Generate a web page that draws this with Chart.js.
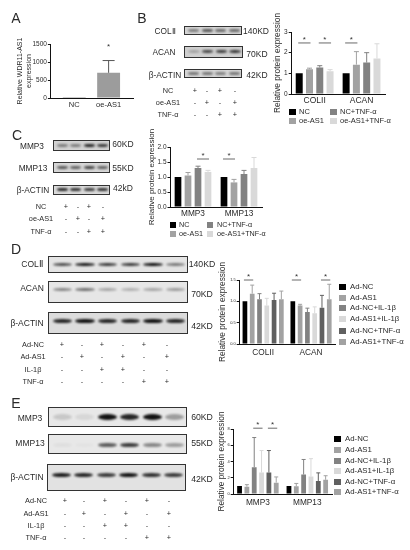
<!DOCTYPE html>
<html>
<head>
<meta charset="utf-8">
<script src="https://cdn.jsdelivr.net/npm/chart.js@4/dist/chart.umd.min.js"></script>
<style>
  html, body { margin: 0; padding: 0; background: #fff; }
  body { position: relative; width: 410px; height: 550px; overflow: hidden; font-family: "Liberation Sans", Arial, sans-serif; color: #2a2a2a; filter: blur(0.3px); }
  canvas { position: absolute; }
  .t { position: absolute; white-space: nowrap; transform: translate(-50%, -50%); line-height: 1; will-change: transform; }
  .l { position: absolute; white-space: nowrap; transform: translateY(-50%); line-height: 1; will-change: transform; }
  .blot { position: absolute; box-sizing: border-box; border: 1px solid #333; overflow: hidden; }
  .band { position: absolute; border-radius: 50%; background: #111; filter: blur(0.9px); }
  .sw { position: absolute; transform: translateY(-50%); }
</style>
</head>
<body>
<script>
// bar colours
const BLACK = '#000000', MID = '#a2a2a2', DARK = '#828282', PALE = '#d9d9d9', DARKER = '#606060'

// panel A
const aLabels = ['NC', 'oe-AS1']
const aValues = [1, 700]
const aUpper = [1, 1040]

// panel B
const bGroups = ['COLII', 'ACAN']
const bSeries = ['NC', 'oe-AS1', 'NC+TNF-α', 'oe-AS1+TNF-α']
const bNC = [1, 1]
const bAS1 = [1.2, 1.42]
const bTNF = [1.28, 1.52]
const bAS1TNF = [1.1, 1.72]
const bNCUp = [1, 1]
const bAS1Up = [1.25, 2.05]
const bTNFUp = [1.37, 2.0]
const bAS1TNFUp = [1.18, 2.43]

// panel C
const cGroups = ['MMP3', 'MMP13']
const cNC = [1, 1]
const cAS1 = [1.05, 0.82]
const cTNF = [1.3, 1.1]
const cAS1TNF = [1.17, 1.3]
const cNCUp = [1, 1]
const cAS1Up = [1.15, 0.92]
const cTNFUp = [1.36, 1.22]
const cAS1TNFUp = [1.22, 1.65]

// panel D
const dGroups = ['COLII', 'ACAN']
const adSeries = ['Ad-NC', 'Ad-AS1', 'Ad-NC+IL-1β', 'Ad-AS1+IL-1β', 'Ad-NC+TNF-α', 'Ad-AS1+TNF-α']
const dNC = [1, 1]
const dAS1 = [1.18, 0.9]
const dIL = [1.05, 0.75]
const dAS1IL = [0.9, 0.72]
const dTNF = [1.03, 0.85]
const dAS1TNF = [1.05, 1.05]
const dNCUp = [1, 1]
const dAS1Up = [1.38, 0.93]
const dILUp = [1.18, 0.84]
const dAS1ILUp = [1.07, 0.87]
const dTNFUp = [1.19, 1.14]
const dAS1TNFUp = [1.24, 1.4]

// panel E
const eGroups = ['MMP3', 'MMP13']
const eNC = [1, 1]
const eAS1 = [0.9, 0.95]
const eIL = [3.3, 2.4]
const eAS1IL = [2.65, 2.15]
const eTNF = [2.65, 1.6]
const eAS1TNF = [1.4, 1.75]
const eNCUp = [1, 1]
const eAS1Up = [1.15, 1.3]
const eILUp = [6.95, 4.25]
const eAS1ILUp = [5.35, 4.35]
const eTNFUp = [5.35, 2.6]
const eAS1TNFUp = [2.1, 2.25]

// significance marks: group, first bar, last bar, height in axis units
const aSig = [[1, 0, 0, 1330]]
const bSig = [[0, 0, 1, 2.47], [0, 2, 3, 2.47], [1, 0, 1, 2.47]]
const cSig = [[0, 2, 3, 1.6], [1, 0, 1, 1.6]]
const dSig = [[0, 0, 1, 1.5], [1, 0, 1, 1.5], [1, 4, 5, 1.5]]
const eSig = [[0, 2, 3, 8.1], [0, 4, 5, 8.1]]

// blot band strength per lane
const bColII = [0.45, 0.65, 0.55, 0.55]
const bAcan = [0.25, 0.75, 0.8, 0.85]
const bActin = [0.5, 0.5, 0.45, 0.5]
const cMmp3 = [0.45, 0.45, 0.9, 0.8]
const cMmp13 = [0.65, 0.6, 0.75, 0.6]
const cActin = [0.9, 0.85, 0.8, 0.85]
const dColII = [0.7, 0.95, 0.8, 0.8, 1, 0.5]
const dAcan = [0.45, 0.55, 0.3, 0.25, 0.3, 0.35]
const dActin = [0.9, 1, 0.9, 0.9, 1, 0.9]
const eMmp3 = [0.15, 0.08, 1, 0.9, 1, 0.35]
const eMmp13 = [0.04, 0.02, 0.65, 0.8, 0.45, 0.35]
const eActin = [0.95, 0.9, 0.8, 1, 0.85, 0.8]

const FONT = '"Liberation Sans", Arial, sans-serif'

function addText(cls, x, y, text, size) {
  const el = document.createElement('div')
  el.className = cls
  el.style.left = x + 'px'
  el.style.top = y + 'px'
  el.style.fontSize = size + 'px'
  el.textContent = text
  document.body.append(el)
}

// error bars and significance marks use the bars placed by the library
const errorBars = {
  id: 'errorBars',
  afterDatasetsDraw(chart, args, opts) {
    const ctx = chart.ctx
    const yScale = chart.scales.y
    ctx.save()
    chart.data.datasets.forEach((ds, di) => {
      const meta = chart.getDatasetMeta(di)
      ds.upper.forEach((up, i) => {
        if (up <= ds.data[i].y) return
        const bar = meta.data[i]
        const y0 = yScale.getPixelForValue(ds.data[i].y)
        const y1 = yScale.getPixelForValue(up)
        ctx.strokeStyle = opts.errColor || ds.backgroundColor
        ctx.lineWidth = 1
        ctx.beginPath()
        ctx.moveTo(bar.x, y0)
        ctx.lineTo(bar.x, y1)
        ctx.moveTo(bar.x - opts.cap, y1)
        ctx.lineTo(bar.x + opts.cap, y1)
        ctx.stroke()
      })
    })
    ctx.fillStyle = '#333'
    ctx.strokeStyle = '#444'
    ctx.lineWidth = 0.8
    ctx.textAlign = 'center'
    ctx.textBaseline = 'middle'
    ctx.font = '8px ' + FONT
    for (const [group, a, b, value] of opts.sig) {
      const xa = chart.getDatasetMeta(a).data[group].x
      const xb = chart.getDatasetMeta(b).data[group].x
      const y = yScale.getPixelForValue(value)
      if (a !== b) {
        ctx.beginPath()
        ctx.moveTo(xa - 1, y)
        ctx.lineTo(xb + 1, y)
        ctx.stroke()
      }
      ctx.fillText('*', (xa + xb) / 2, y - 3)
    }
    ctx.restore()
  }
}

// axis = page position of the plot box, titleX = page x of the axis title centre
function barChart(cfg) {
  const { axis, titleX } = cfg
  const below = cfg.below + 14 // room for the long axis title
  const lh = cfg.titleSize * 1.25
  const left = titleX - lh / 2
  const top = axis.top - 26
  const canvas = document.createElement('canvas')
  canvas.width = axis.right - left + 4
  canvas.height = axis.bottom - top + below
  canvas.style.left = left + 'px'
  canvas.style.top = top + 'px'
  document.body.append(canvas)

  const n = cfg.labels.length
  const pitch = cfg.pitch || ((axis.right - axis.left) / n)
  const x0 = cfg.firstX !== undefined ? cfg.firstX : axis.left + pitch / 2
  const noPad = scale => {
    scale.paddingLeft = scale.paddingRight = scale.paddingTop = scale.paddingBottom = 0
  }

  new Chart(canvas, {
    type: 'bar',
    data: {
      datasets: cfg.series.map(s => ({
        data: s.values.map((v, i) => ({ x: i, y: v })),
        upper: s.upper,
        backgroundColor: s.color
      }))
    },
    options: {
      responsive: false,
      animation: false,
      layout: { padding: { top: axis.top - top, right: 4 } },
      datasets: {
        bar: {
          categoryPercentage: (cfg.barStep * cfg.series.length) / pitch,
          barPercentage: cfg.barWidth / cfg.barStep
        }
      },
      plugins: {
        legend: { display: false },
        tooltip: { enabled: false },
        errorBars: { sig: cfg.sig, cap: cfg.cap, errColor: cfg.errColor }
      },
      scales: {
        x: {
          type: 'linear',
          offset: false,
          min: (axis.left - x0) / pitch,
          max: (axis.right - x0) / pitch,
          afterBuildTicks: scale => { scale.ticks = cfg.labels.map((l, i) => ({ value: i })) },
          afterFit: scale => { scale.height = below; noPad(scale) },
          grid: { display: false, drawTicks: false, offset: false },
          border: { color: '#111', width: 1 },
          ticks: {
            autoSkip: false, maxRotation: 0, padding: cfg.xPad, color: '#2a2a2a',
            font: { size: cfg.xSize, family: FONT },
            callback: v => cfg.labels[v]
          }
        },
        y: {
          min: 0,
          max: cfg.max,
          afterFit: scale => { scale.width = axis.left - left; noPad(scale) },
          afterBuildTicks: scale => { scale.ticks = cfg.ticks.map(v => ({ value: v })) },
          grid: { drawOnChartArea: false, drawTicks: true, tickLength: 2.5, color: '#111', lineWidth: 1 },
          border: { color: '#111', width: 1 },
          title: {
            display: true, text: cfg.title, color: '#2a2a2a', padding: 0,
            font: { size: cfg.titleSize, family: FONT, lineHeight: 1.25 }
          },
          ticks: {
            padding: 1, color: '#2a2a2a',
            font: { size: cfg.tickSize, family: FONT },
            callback: v => cfg.decimals ? v.toFixed(cfg.decimals) : v
          }
        }
      }
    },
    plugins: [errorBars]
  })
}

// western blot strip, bands spread evenly over the lanes
function blot(box, bg, strength, band) {
  const el = document.createElement('div')
  el.className = 'blot'
  el.style.left = box[0] + 'px'
  el.style.top = box[1] + 'px'
  el.style.width = (box[2] - box[0]) + 'px'
  el.style.height = (box[3] - box[1]) + 'px'
  el.style.background = bg
  const inner = box[2] - box[0] - 4
  const lane = inner / strength.length
  strength.forEach((s, i) => {
    const b = document.createElement('div')
    b.className = 'band'
    b.style.left = (2 + lane * i + lane * 0.08) + 'px'
    b.style.width = (lane * 0.84) + 'px'
    b.style.top = (band.pos * (box[3] - box[1]) - band.h / 2 - 1) + 'px'
    b.style.height = band.h + 'px'
    b.style.opacity = s
    el.append(b)
  })
  document.body.append(el)
}

function signTable(labelX, ys, labels, rows, xs, size) {
  labels.forEach((label, r) => {
    addText('t', labelX, ys[r], label, size)
    rows[r].forEach((sign, c) => addText('t', xs[c], ys[r], sign, size))
  })
}

function legendItem(x, y, color, text, size, sw, textGap) {
  const el = document.createElement('div')
  el.className = 'sw'
  el.style.cssText = `left:${x}px;top:${y}px;width:${sw[0]}px;height:${sw[1]}px;background:${color}`
  document.body.append(el)
  addText('l', x + textGap, y, text, size)
}

// A
barChart({
  axis: { left: 50, right: 133, top: 44, bottom: 98 }, titleX: 20, below: 12,
  title: ['Relative WDR11-AS1', 'expression'], titleSize: 7, tickSize: 6.5, xSize: 7.5, xPad: 2,
  labels: aLabels, pitch: 34.5, firstX: 74, barStep: 23, barWidth: 23, cap: 6, errColor: '#555',
  max: 1500, ticks: [0, 500, 1000, 1500], sig: aSig,
  series: [{ values: aValues, upper: aUpper, color: '#9c9c9c' }]
})

// B
barChart({
  axis: { left: 291, right: 385, top: 32, bottom: 94 }, titleX: 278, below: 14,
  title: 'Relative protein expression', titleSize: 8.3, tickSize: 6.5, xSize: 8.5, xPad: 2,
  labels: bGroups, barStep: 10.3, barWidth: 7, cap: 2.5,
  max: 3, ticks: [0, 1, 2, 3], sig: bSig,
  series: [
    { values: bNC, upper: bNCUp, color: BLACK },
    { values: bAS1, upper: bAS1Up, color: MID },
    { values: bTNF, upper: bTNFUp, color: DARK },
    { values: bAS1TNF, upper: bAS1TNFUp, color: PALE }
  ]
})

// C
barChart({
  axis: { left: 170, right: 262, top: 147, bottom: 207 }, titleX: 152, below: 14,
  title: 'Relative protein expression', titleSize: 8, tickSize: 6.5, xSize: 8.3, xPad: 2,
  labels: cGroups, barStep: 10, barWidth: 6.7, cap: 2.5, decimals: 1,
  max: 2, ticks: [0, 0.5, 1, 1.5, 2], sig: cSig,
  series: [
    { values: cNC, upper: cNCUp, color: BLACK },
    { values: cAS1, upper: cAS1Up, color: MID },
    { values: cTNF, upper: cTNFUp, color: DARK },
    { values: cAS1TNF, upper: cAS1TNFUp, color: PALE }
  ]
})

// D
barChart({
  axis: { left: 239, right: 335, top: 280, bottom: 344 }, titleX: 223, below: 15,
  title: 'Relative protein expression', titleSize: 8.3, tickSize: 4, xSize: 8.3, xPad: 4,
  labels: dGroups, barStep: 7.3, barWidth: 4.7, cap: 2, decimals: 1,
  max: 1.5, ticks: [0, 0.5, 1, 1.5], sig: dSig,
  series: [
    { values: dNC, upper: dNCUp, color: BLACK },
    { values: dAS1, upper: dAS1Up, color: MID },
    { values: dIL, upper: dILUp, color: DARK },
    { values: dAS1IL, upper: dAS1ILUp, color: PALE },
    { values: dTNF, upper: dTNFUp, color: DARKER },
    { values: dAS1TNF, upper: dAS1TNFUp, color: MID }
  ]
})

// E
barChart({
  axis: { left: 233, right: 332, top: 429, bottom: 494 }, titleX: 222, below: 15,
  title: 'Relative protein expression', titleSize: 8.3, tickSize: 4, xSize: 8.3, xPad: 4,
  labels: eGroups, barStep: 7.35, barWidth: 4.8, cap: 2,
  max: 8, ticks: [0, 2, 4, 6, 8], sig: eSig,
  series: [
    { values: eNC, upper: eNCUp, color: BLACK },
    { values: eAS1, upper: eAS1Up, color: MID },
    { values: eIL, upper: eILUp, color: DARK },
    { values: eAS1IL, upper: eAS1ILUp, color: PALE },
    { values: eTNF, upper: eTNFUp, color: DARKER },
    { values: eAS1TNF, upper: eAS1TNFUp, color: MID }
  ]
})

// panel letters
addText('t', 16, 18, 'A', 14)
addText('t', 142, 18, 'B', 14)
addText('t', 17, 135, 'C', 14)
addText('t', 16, 249, 'D', 14)
addText('t', 16, 403, 'E', 14)

// B blots and labels
blot([184, 26, 242, 35], '#d4d4d4', bColII, { pos: 0.5, h: 2.5 })
blot([184, 46, 243, 58], '#cfcfcf', bAcan, { pos: 0.48, h: 3 })
blot([184, 69, 242, 78], '#d6d6d6', bActin, { pos: 0.5, h: 2.5 })
addText('t', 165, 31, 'COLⅡ', 8.3)
addText('t', 164, 52, 'ACAN', 8.3)
addText('t', 165, 75, 'β-ACTIN', 8.3)
addText('t', 256, 31, '140KD', 8.5)
addText('t', 257, 54, '70KD', 8.5)
addText('t', 257, 75, '42KD', 8.5)
signTable(168, [91, 103, 115], ['NC', 'oe-AS1', 'TNF-α'],
  [['+', '-', '+', '-'], ['-', '+', '-', '+'], ['-', '-', '+', '+']],
  [195, 207, 220, 235], 7.3)
bSeries.forEach((name, i) => {
  const colors = [BLACK, MID, DARK, PALE]
  legendItem(i < 2 ? 289 : 330, i % 2 ? 121 : 112, colors[i], name, 7.5, [7, 6], 10)
})

// C blots and labels
blot([53, 140, 110, 151], '#d2d2d2', cMmp3, { pos: 0.5, h: 3 })
blot([53, 162, 110, 173], '#d6d6d6', cMmp13, { pos: 0.5, h: 3 })
blot([53, 185, 110, 195], '#dadada', cActin, { pos: 0.45, h: 2.5 })
addText('t', 32, 146, 'MMP3', 8.3)
addText('t', 33, 168, 'MMP13', 8.3)
addText('t', 33, 190, 'β-ACTIN', 8.3)
addText('t', 123, 144, '60KD', 8.5)
addText('t', 123, 168, '55KD', 8.5)
addText('t', 123, 188, '42kD', 8.5)
signTable(41, [207, 219, 232], ['NC', 'oe-AS1', 'TNF-α'],
  [['+', '-', '+', '-'], ['-', '+', '-', '+'], ['-', '-', '+', '+']],
  [66, 78, 89, 103], 7.3)
bSeries.forEach((name, i) => {
  const colors = [BLACK, MID, DARK, PALE]
  legendItem(i < 2 ? 170 : 207, i % 2 ? 234 : 225, colors[i], name, 7.2, [6, 6], i < 2 ? 9 : 10)
})

// D blots and labels
blot([48, 256, 188, 273], '#e4e4e4', dColII, { pos: 0.5, h: 3.5 })
blot([48, 281, 188, 303], '#e6e6e6', dAcan, { pos: 0.38, h: 3.5 })
blot([48, 312, 188, 334], '#dcdcdc', dActin, { pos: 0.42, h: 4.5 })
addText('t', 32, 264, 'COLⅡ', 8.5)
addText('t', 32, 288, 'ACAN', 8.5)
addText('t', 27, 323, 'β-ACTIN', 8.5)
addText('t', 202, 264, '140KD', 8.7)
addText('t', 202, 294, '70KD', 8.7)
addText('t', 202, 326, '42KD', 8.7)
signTable(33, [345, 357, 370, 382], ['Ad-NC', 'Ad-AS1', 'IL-1β', 'TNF-α'],
  [['+', '-', '+', '-', '+', '-'], ['-', '+', '-', '+', '-', '+'], ['-', '-', '+', '+', '-', '-'], ['-', '-', '-', '-', '+', '+']],
  [62, 82, 102, 123, 144, 167], 7.3)
const adColors = [BLACK, MID, DARK, PALE, DARKER, MID]
const dLegendY = [287, 298, 308, 319, 331, 342]
adSeries.forEach((name, i) => legendItem(339, dLegendY[i], adColors[i], name, 7.8, [7, 6], 11))

// E blots and labels
blot([48, 407, 187, 427], '#e8e8e8', eMmp3, { pos: 0.52, h: 6 })
blot([48, 434, 187, 454], '#e8e8e8', eMmp13, { pos: 0.55, h: 4.5 })
blot([47, 464, 186, 491], '#e2e2e2', eActin, { pos: 0.4, h: 4 })
addText('t', 30, 418, 'MMP3', 8.5)
addText('t', 30, 443, 'MMP13', 8.5)
addText('t', 27, 477, 'β-ACTIN', 8.5)
addText('t', 202, 417, '60KD', 8.7)
addText('t', 202, 443, '55KD', 8.7)
addText('t', 202, 479, '42KD', 8.7)
signTable(36, [501, 514, 526, 538], ['Ad-NC', 'Ad-AS1', 'IL-1β', 'TNF-α'],
  [['+', '-', '+', '-', '+', '-'], ['-', '+', '-', '+', '-', '+'], ['-', '-', '+', '+', '-', '-'], ['-', '-', '-', '-', '+', '+']],
  [65, 84, 105, 126, 147, 169], 7.3)
const eLegendY = [439, 450, 461, 471, 482, 492]
adSeries.forEach((name, i) => legendItem(334, eLegendY[i], adColors[i], name, 7.8, [7, 6], 11))
</script>
</body>
</html>
